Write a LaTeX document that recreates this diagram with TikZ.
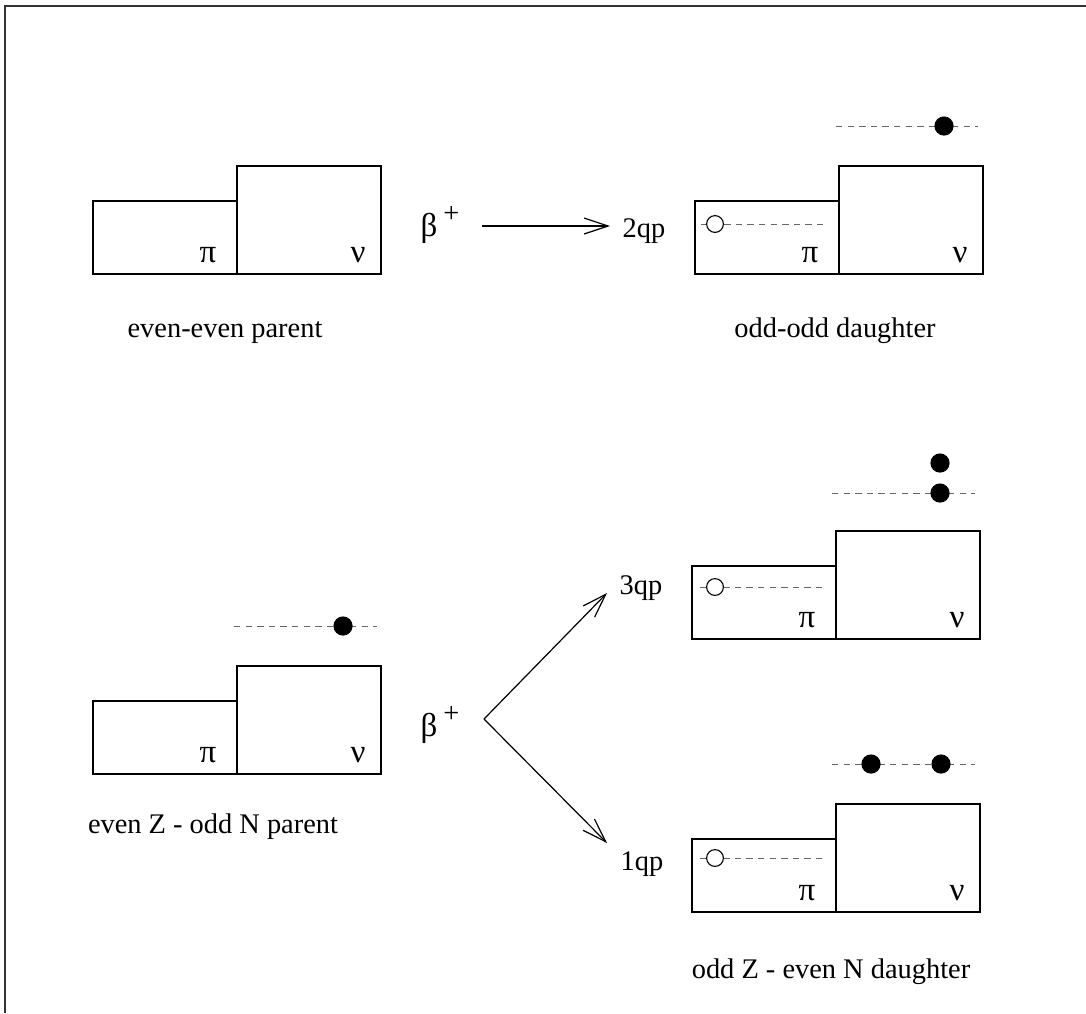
\documentclass[tikz,border=0pt]{standalone}
\usepackage{fontspec}
\setmainfont{Liberation Serif}
\usetikzlibrary{arrows.meta}

\begin{document}
\begin{tikzpicture}[x=.5pt,y=-.5pt,
	txt/.style={font=\fontsize{14.2}{17}\selectfont,inner sep=0pt},
	greek/.style={font=\fontsize{16.5}{18}\selectfont,inner sep=0pt},
	shell/.style={line width=.9pt},
	level/.style={black!60,line width=.5pt,dash pattern=on 3.2pt off 2.6pt},
	part/.style={circle,fill=black,inner sep=0pt,minimum size=9.6pt},
	hole/.style={circle,draw,fill=white,inner sep=0pt,minimum size=8.4pt,line width=.55pt},
	decay/.style={-{Straight Barb[length=12pt,width=8pt]},line width=.6pt}]
	\useasboundingbox (0,0) rectangle (1086,1013);
	\draw[black!80,line width=1pt] (5,1013)--(5,5.5)--(1086,5.5);
	% proton and neutron boxes
	\foreach \n/\x/\y in {a/93/166,b/695/166,c/93/666,d/692/531,e/692/804}{
		\draw[shell] (\x,\y+35) rectangle (\x+144,\y+108);
		\draw[shell] (\x+144,\y) rectangle (\x+288,\y+108);
		\node[greek,anchor=base] (pi\n) at (\x+115,\y+96){π};
		\node[greek,anchor=base] (nu\n) at (\x+265,\y+96){ν};
	}
	% top row
	\node[greek,anchor=base] (betaa) at (440,236){β\hspace{3pt}\raisebox{7pt}{\fontsize{14.2}{17}\selectfont+}};
	\coordinate (sa) at (482,226);
	\coordinate (ta) at (610,226);
	\draw[decay] (sa)--(ta);
	\node[txt,anchor=base] (qtwo) at (644,237){2qp};
	\draw[level] (836,126)--(978,126);
	\node[part] (dotb) at (944,126){};
	\draw[level] (701,224)--(827,224);
	\node[hole] (holeb) at (715,224){};
	\node[txt,anchor=base] (capa) at (225,337){even-even parent};
	\node[txt,anchor=base] (capb) at (835,337){odd-odd daughter};
	% bottom row
	\draw[level] (234,626)--(377,626);
	\node[part] (dotc) at (343,626){};
	\node[greek,anchor=base] (betac) at (440,736){β\hspace{3pt}\raisebox{7pt}{\fontsize{14.2}{17}\selectfont+}};
	\coordinate (fork) at (484,719);
	\coordinate (td) at (607,593);
	\coordinate (te) at (607,843);
	\draw[decay] (fork)--(td);
	\draw[decay] (fork)--(te);
	\node[txt,anchor=base] (qthree) at (641,594){3qp};
	\node[txt,anchor=base] (qone) at (642,870){1qp};
	\draw[level] (832,493)--(975,493);
	\node[part] (dotd) at (940,493){};
	\node[part] (dotdd) at (940,463){};
	\draw[level] (700,587)--(826,587);
	\node[hole] (holed) at (715,587){};
	\draw[level] (832,764)--(975,764);
	\node[part] (dote) at (871,764){};
	\node[part] (dotee) at (941,764){};
	\draw[level] (700,858)--(826,858);
	\node[hole] (holee) at (715,858){};
	\node[txt,anchor=base] (capc) at (213,833){even Z - odd N parent};
	\node[txt,anchor=base] (capd) at (831,978){odd Z - even N daughter};
\end{tikzpicture}
\end{document}
